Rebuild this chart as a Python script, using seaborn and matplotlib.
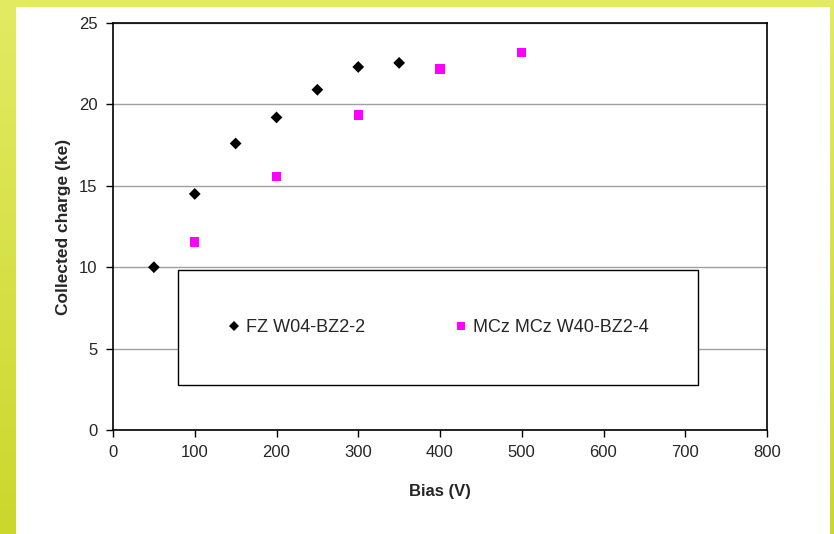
import numpy as np
import pandas as pd
import matplotlib
matplotlib.use('Agg')
import matplotlib.pyplot as plt
from matplotlib.patches import Rectangle
import seaborn as sns

# data
fz_bias = [50, 100, 150, 200, 250, 300, 350]
fz_charge = [10.0, 14.5, 17.6, 19.2, 20.9, 22.3, 22.55]
mcz_bias = [100, 200, 300, 400, 500]
mcz_charge = [11.55, 15.57, 19.35, 22.17, 23.2]
series_names = ['FZ W04-BZ2-2', 'MCz MCz W40-BZ2-4']
x_ticks = [0, 100, 200, 300, 400, 500, 600, 700, 800]
y_ticks = [0, 5, 10, 15, 20, 25]

df = pd.DataFrame({
    'Bias': fz_bias + mcz_bias,
    'Charge': fz_charge + mcz_charge,
    'Sample': [series_names[0]] * len(fz_bias) + [series_names[1]] * len(mcz_bias),
})

sns.set_style('white')
plt.rcParams['font.family'] = ['Liberation Sans', 'DejaVu Sans']

fig = plt.figure(figsize=(8.34, 5.34), dpi=100)

# yellow-green gradient frame behind a white panel
bg = fig.add_axes([0, 0, 1, 1], zorder=-10)
grad = np.linspace(0, 1, 256).reshape(-1, 1)
cmap = matplotlib.colors.LinearSegmentedColormap.from_list('bg', ['#e2eb62', '#ccd72c'])
bg.imshow(grad, aspect='auto', cmap=cmap, extent=[0, 1, 0, 1], origin='upper')
bg.add_patch(Rectangle((16 / 834, 0), (830 - 16) / 834, (534 - 7) / 534,
                       facecolor='white', edgecolor='none'))
bg.set_xlim(0, 1)
bg.set_ylim(0, 1)
bg.axis('off')

ax = fig.add_axes([113 / 834, (534 - 430) / 534, (767 - 113) / 834, (430 - 23) / 534])
ax.set_facecolor('none')

sns.scatterplot(data=df, x='Bias', y='Charge', hue='Sample', style='Sample',
                palette={series_names[0]: 'black', series_names[1]: '#ff00ff'},
                markers={series_names[0]: 'D', series_names[1]: 's'},
                size='Sample', sizes={series_names[0]: 36, series_names[1]: 46},
                linewidth=0, ax=ax, zorder=3)

ax.set_xlim(0, 800)
ax.set_ylim(0, 25)
ax.set_xticks(x_ticks)
ax.set_yticks(y_ticks)
ax.yaxis.grid(True, color='#a0a0a0', linewidth=1)
ax.set_axisbelow(True)
for s in ax.spines.values():
    s.set_color('black')
    s.set_linewidth(1.2)
ax.tick_params(axis='both', direction='out', length=5, width=1, color='black',
               labelsize=12, pad=6, bottom=True, left=True)
ax.set_xlabel('Bias (V)', fontsize=12, fontweight='bold', labelpad=17)
ax.set_ylabel('Collected charge (ke)', fontsize=12.5, fontweight='bold', labelpad=6)

handles, labels = ax.get_legend_handles_labels()
leg = ax.legend(handles, labels, ncol=2, loc='center', mode='expand',
                bbox_to_anchor=(0.099, 0.11, 0.795, 0.283),
                fontsize=13, frameon=True, fancybox=False, framealpha=1,
                edgecolor='black', borderpad=2.7, handlelength=0.8,
                handletextpad=0.3, markerscale=0.8, borderaxespad=0)
leg.get_frame().set_linewidth(1)

fig.savefig('out.png', dpi=100)
